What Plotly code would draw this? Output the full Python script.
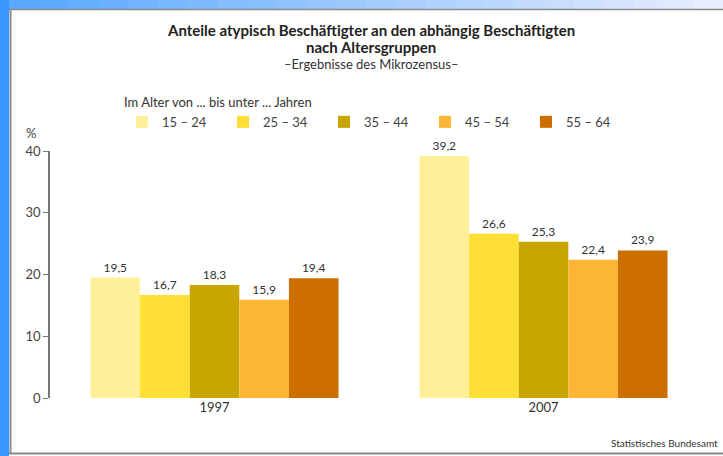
import plotly.graph_objects as go

years = ["1997", "2007"]
age_groups = ["15 – 24", "25 – 34", "35 – 44", "45 – 54", "55 – 64"]
v_15_24 = [19.5, 39.2]
v_25_34 = [16.7, 26.6]
v_35_44 = [18.3, 25.3]
v_45_54 = [15.9, 22.4]
v_55_64 = [19.4, 23.9]
series = [v_15_24, v_25_34, v_35_44, v_45_54, v_55_64]
colors = ["#FFEF99", "#FFDF33", "#C9A500", "#FDB535", "#CC6E00"]
y_ticks = [0, 10, 20, 30, 40]

W, H = 723, 456
ML, MR, MT, MB = 50, 15, 151, 58
PW, PH = W - ML - MR, H - MT - MB
FONT = "Lato, Liberation Sans, sans-serif"


def px(x):
    return (x - ML) / PW


def py(y):
    return (H - MB - y) / PH


fig = go.Figure()
for name, vals, col in zip(age_groups, series, colors):
    fig.add_trace(go.Bar(
        x=years, y=vals, name=name, marker=dict(color=col, line=dict(width=0)),
        text=[f"{v:.1f}".replace(".", ",") for v in vals],
        textposition="outside", cliponaxis=False,
        textfont=dict(family=FONT, size=12, color="#333333"),
        hoverinfo="skip",
    ))

shapes = []
# blue frame
shapes.append(dict(type="rect", xref="paper", yref="paper", x0=px(0), x1=px(9), y0=py(H), y1=py(0),
                   fillcolor="#3A96FF", line=dict(width=0), layer="below"))
n = 24
for i in range(n):
    t = i / (n - 1)
    r = int(0x5A + (0xE8 - 0x5A) * t)
    g = int(0xA8 + (0xEE - 0xA8) * t)
    b = 255
    x0 = 9 + (W - 9) * i / n
    x1 = 9 + (W - 9) * (i + 1) / n + 1
    shapes.append(dict(type="rect", xref="paper", yref="paper", x0=px(x0), x1=px(x1), y0=py(9), y1=py(0),
                       fillcolor=f"rgb({r},{g},{b})", line=dict(width=0), layer="below"))
# gray frame lines
shapes.append(dict(type="line", xref="paper", yref="paper", x0=px(10.5), x1=px(10.5), y0=py(9), y1=py(454),
                   line=dict(color="#8a8a8a", width=2)))
shapes.append(dict(type="line", xref="paper", yref="paper", x0=px(9), x1=px(W), y0=py(9.5), y1=py(9.5),
                   line=dict(color="#8a8a8a", width=1.5)))
shapes.append(dict(type="line", xref="paper", yref="paper", x0=px(9), x1=px(W), y0=py(453.5), y1=py(453.5),
                   line=dict(color="#8a8a8a", width=2)))

annotations = [
    dict(text="<b>Anteile atypisch Beschäftigter an den abhängig Beschäftigten</b>", x=px(371), y=py(30),
         font=dict(size=15, color="#222222", family=FONT)),
    dict(text="<b>nach Altersgruppen</b>", x=px(371), y=py(47),
         font=dict(size=15, color="#222222", family=FONT)),
    dict(text="–Ergebnisse des Mikrozensus–", x=px(371), y=py(64),
         font=dict(size=13, color="#333333", family=FONT)),
    dict(text="%", x=px(31), y=py(133), font=dict(size=13, color="#444444", family=FONT)),
    dict(text="Statistisches Bundesamt", x=px(720), y=py(443), xanchor="right",
         font=dict(size=10, color="#333333", family=FONT)),
]
for a in annotations:
    a.update(xref="paper", yref="paper", showarrow=False)
    a.setdefault("xanchor", "center")
    a.setdefault("yanchor", "middle")

fig.update_layout(
    width=W, height=H,
    margin=dict(l=ML, r=MR, t=MT, b=MB, autoexpand=False),
    paper_bgcolor="white", plot_bgcolor="white",
    barmode="group", bargap=0.246, bargroupgap=0,
    font=dict(family=FONT, color="#444444"),
    showlegend=True,
    legend=dict(
        orientation="h", x=px(122), y=py(90), xanchor="left", yanchor="top",
        title=dict(text="Im Alter von ... bis unter ... Jahren", side="top",
                   font=dict(size=13, color="#333333", family=FONT)),
        font=dict(size=13, color="#444444", family=FONT),
        entrywidth=56, itemwidth=30, traceorder="normal",
        bgcolor="rgba(0,0,0,0)",
    ),
    xaxis=dict(showline=False, showgrid=False, zeroline=False, ticks="",
               tickfont=dict(size=13, color="#333333", family=FONT), fixedrange=True),
    yaxis=dict(range=[0, 40], tickvals=y_ticks, showgrid=False, zeroline=False,
               showline=True, linecolor="#777777", linewidth=1.5,
               ticks="outside", ticklen=5, tickcolor="#777777", tickwidth=1.2,
               tickfont=dict(size=13, color="#444444", family=FONT), fixedrange=True),
    shapes=shapes,
    annotations=annotations,
)

fig.write_html("out.html", config={"displayModeBar": False},
               post_script="document.body.style.margin='0';document.body.style.overflow='hidden';")
